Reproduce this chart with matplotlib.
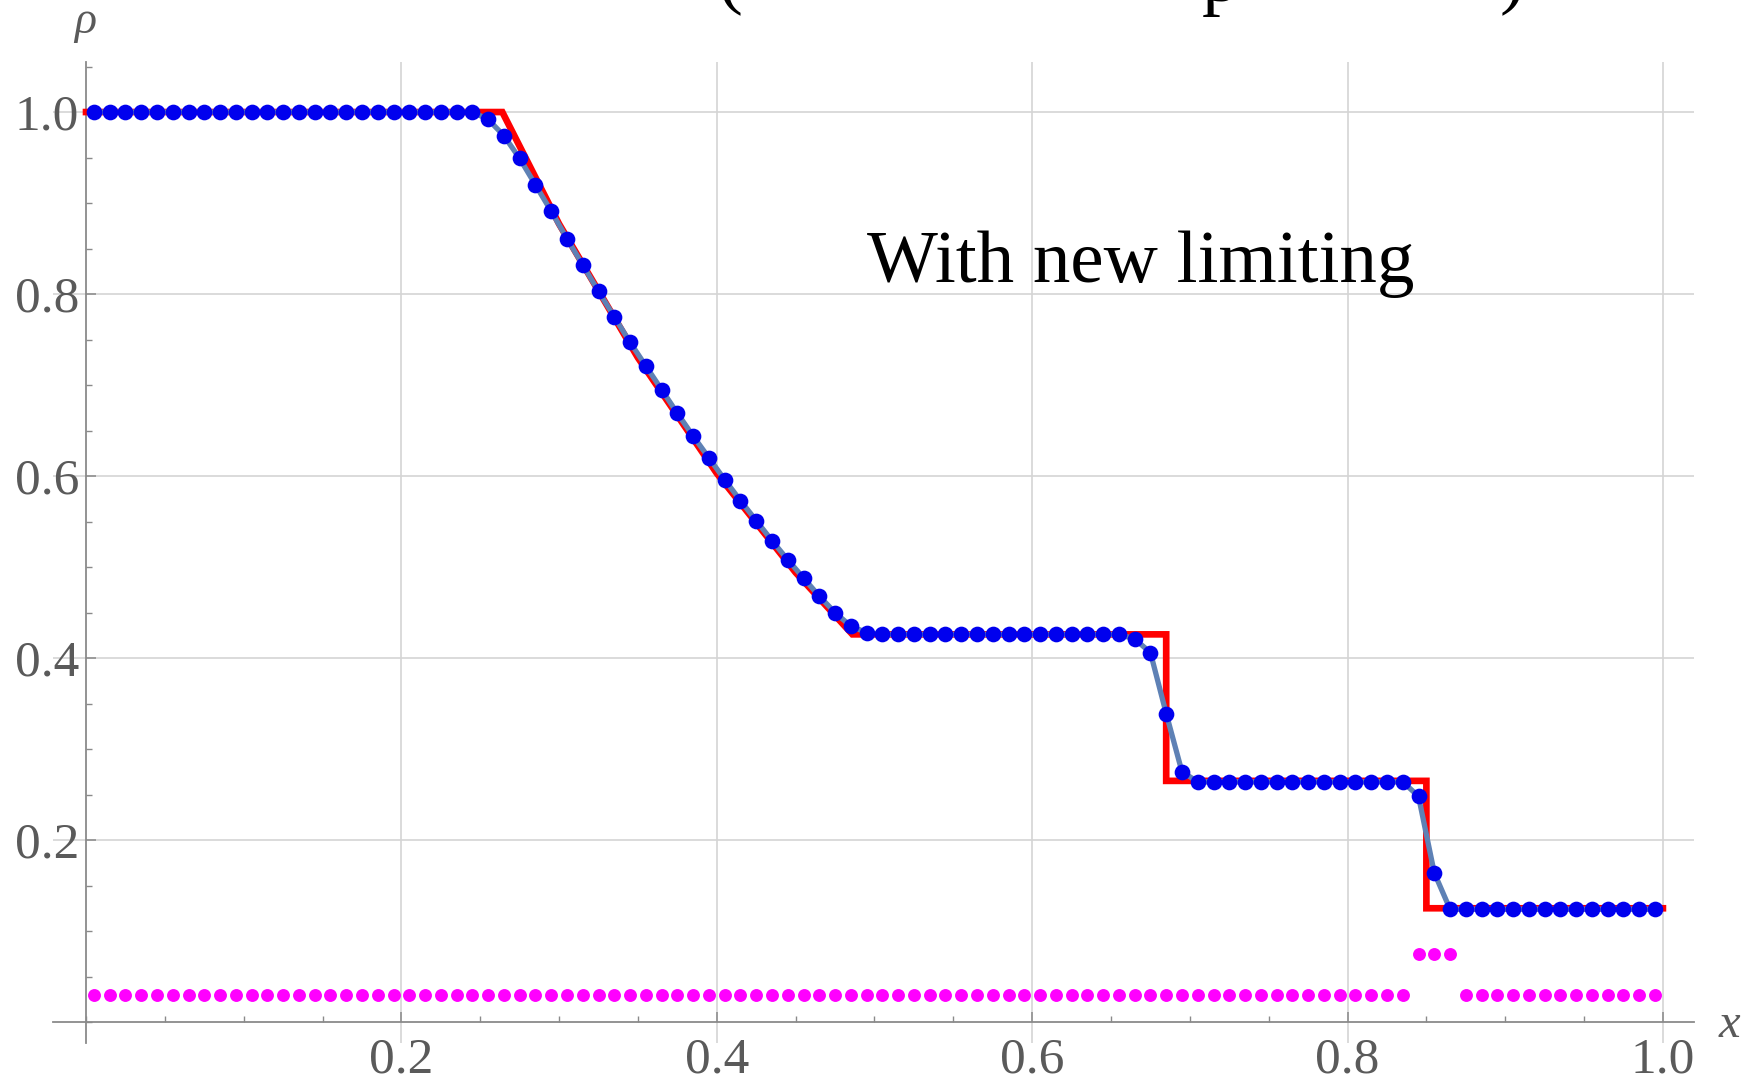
import numpy as np
import matplotlib
matplotlib.use("Agg")
import matplotlib.pyplot as plt
from matplotlib.ticker import MultipleLocator

# cell centres of the 100-cell grid
n_cells = 100
x_cells = (np.arange(n_cells) + 0.5) / n_cells

# numerical cell averages of density (blue dots)
rho_num = [
    1.0, 1.0, 1.0, 1.0, 1.0, 1.0, 1.0, 1.0, 1.0, 1.0,
    1.0, 1.0, 1.0, 1.0, 1.0, 1.0, 1.0, 1.0, 1.0, 1.0,
    1.0, 1.0, 1.0, 1.0, 1.0, 0.992, 0.974, 0.949, 0.920, 0.891,
    0.861, 0.832, 0.803, 0.775, 0.747, 0.721, 0.695, 0.669, 0.644, 0.620,
    0.596, 0.573, 0.551, 0.529, 0.508, 0.488, 0.468, 0.450, 0.435, 0.428,
    0.426, 0.426, 0.426, 0.426, 0.426, 0.426, 0.426, 0.426, 0.426, 0.426,
    0.426, 0.426, 0.426, 0.426, 0.426, 0.426, 0.421, 0.406, 0.339, 0.275,
    0.264, 0.264, 0.264, 0.264, 0.264, 0.264, 0.264, 0.264, 0.264, 0.264,
    0.264, 0.264, 0.264, 0.264, 0.248, 0.164, 0.124, 0.124, 0.124, 0.124,
    0.124, 0.124, 0.124, 0.124, 0.124, 0.124, 0.124, 0.124, 0.124, 0.124,
]

# troubled-cell flag (magenta dots)
flag = [
    0.03, 0.03, 0.03, 0.03, 0.03, 0.03, 0.03, 0.03, 0.03, 0.03,
    0.03, 0.03, 0.03, 0.03, 0.03, 0.03, 0.03, 0.03, 0.03, 0.03,
    0.03, 0.03, 0.03, 0.03, 0.03, 0.03, 0.03, 0.03, 0.03, 0.03,
    0.03, 0.03, 0.03, 0.03, 0.03, 0.03, 0.03, 0.03, 0.03, 0.03,
    0.03, 0.03, 0.03, 0.03, 0.03, 0.03, 0.03, 0.03, 0.03, 0.03,
    0.03, 0.03, 0.03, 0.03, 0.03, 0.03, 0.03, 0.03, 0.03, 0.03,
    0.03, 0.03, 0.03, 0.03, 0.03, 0.03, 0.03, 0.03, 0.03, 0.03,
    0.03, 0.03, 0.03, 0.03, 0.03, 0.03, 0.03, 0.03, 0.03, 0.03,
    0.03, 0.03, 0.03, 0.03, 0.075, 0.075, 0.075, 0.03, 0.03, 0.03,
    0.03, 0.03, 0.03, 0.03, 0.03, 0.03, 0.03, 0.03, 0.03, 0.03,
]

# exact solution (red)
x_exact = [0.0, 0.264, 0.30, 0.35, 0.40, 0.45, 0.486, 0.685, 0.685, 0.850, 0.850, 1.0]
rho_exact = [1.0, 1.0, 0.877, 0.730, 0.603, 0.494, 0.426, 0.426, 0.265, 0.265, 0.125, 0.125]

tick_vals = [0.2, 0.4, 0.6, 0.8, 1.0]
tick_labels = ["0.2", "0.4", "0.6", "0.8", "1.0"]

serif = "Liberation Serif"
gray = "#5a5a5a"
axis_gray = "#8a8a8a"

fig = plt.figure(figsize=(17.6, 10.82), dpi=100)
ax = fig.add_axes([0.03006, 0.0361, 0.9327, 0.9066])

ax.plot(x_exact, rho_exact, color="#ff0000", lw=4.8, solid_joinstyle="miter", zorder=3)
ax.plot(x_cells, rho_num, color="#5e81b5", lw=3.8, zorder=4)
ax.plot(x_cells, rho_num, "o", color="#0000ee", ms=11.3, mew=0, zorder=5)
ax.plot(x_cells, flag, "o", color="#ff00ff", ms=9.3, mew=0, zorder=5)

ax.set_xlim(-0.021, 1.020)
ax.set_ylim(-0.023, 1.055)

for s in ["top", "right"]:
    ax.spines[s].set_visible(False)
for s in ["left", "bottom"]:
    ax.spines[s].set_position(("data", 0))
    ax.spines[s].set_color(axis_gray)
    ax.spines[s].set_linewidth(1.3)

ax.set_xticks(tick_vals)
ax.set_xticklabels(tick_labels)
ax.set_yticks(tick_vals)
ax.set_yticklabels(tick_labels)
ax.xaxis.set_minor_locator(MultipleLocator(0.05))
ax.yaxis.set_minor_locator(MultipleLocator(0.05))
ax.tick_params(which="major", direction="in", length=7, width=1.1, color=axis_gray,
               labelsize=37, labelcolor=gray)
ax.tick_params(which="minor", direction="in", length=4, width=1.0, color=axis_gray)
ax.tick_params(axis="x", which="major", pad=11)
ax.tick_params(axis="y", which="major", pad=5)
for lab in ax.get_xticklabels() + ax.get_yticklabels():
    lab.set_fontfamily(serif)

ax.grid(True, which="major", color="#d4d4d4", lw=1.2)
ax.set_axisbelow(True)

# axis labels
fig.text(0.0483, 0.9695, "ρ", fontsize=33, family=serif, style="italic", color=gray,
         ha="center", va="baseline")
fig.text(0.9824, 0.0416, "x", fontsize=35, family=serif, style="italic", color=gray,
         ha="center", va="baseline")

ax.text(0.4926, 0.7397, "With new limiting", transform=fig.transFigure, fontsize=54,
        family=serif, color="black", ha="left", va="baseline")

# bottom edge of the slide title, cut off by the top of the image as in the original
for xpos, ch in [(0.408, "("), (0.683, "p"), (0.852, ")")]:
    fig.text(xpos, 0.9995, ch, fontsize=54, family=serif, color="black",
             ha="left", va="baseline")

fig.savefig("out.png", dpi=100)
